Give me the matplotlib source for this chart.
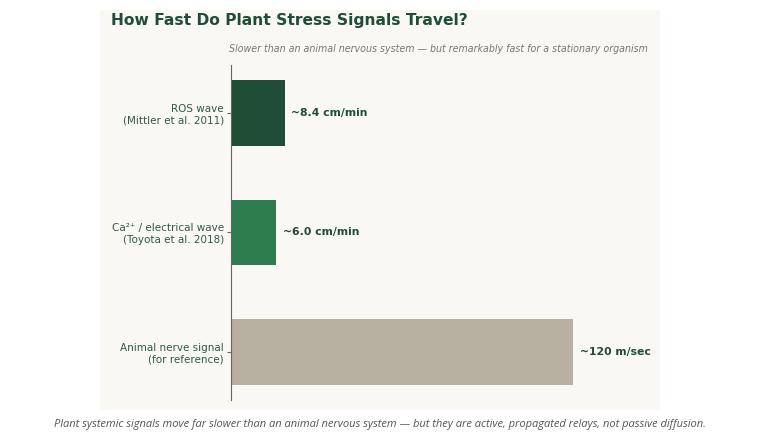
import numpy as np
import matplotlib.pyplot as plt
from matplotlib.patches import Rectangle

# data (bar length = log10 of speed in cm/min)
categories = ["ROS wave\n(Mittler et al. 2011)",
              "Ca²⁺ / electrical wave\n(Toyota et al. 2018)",
              "Animal nerve signal\n(for reference)"]
speed_cm_min = [8.4, 6.0, 120 * 100 * 60]
value_labels = ["~8.4 cm/min", "~6.0 cm/min", "~120 m/sec"]
bar_colors = ["#1f4d36", "#2e7d4f", "#b8b0a0"]

log_vals = np.log10(speed_cm_min)

W, H = 761, 447
fig = plt.figure(figsize=(W / 100, H / 100), dpi=100, facecolor="white")

# off-white panel behind the chart
fig.patches.append(Rectangle((100 / W, 1 - 410 / H), 560 / W, 400 / H,
                             transform=fig.transFigure, facecolor="#faf8f4",
                             edgecolor="none", zorder=-5))

ax = fig.add_axes([231 / W, 47 / H, 419 / W, 335 / H])
ax.set_facecolor("none")

y = np.arange(len(categories))
ax.barh(y, log_vals, height=0.55, color=bar_colors)
ax.invert_yaxis()
ax.set_xlim(0, 7.17)

ax.set_yticks(y)
ax.set_yticklabels(categories, fontsize=7.5, color="#2d5a45")
ax.set_xticks([])
for s in ["top", "right", "bottom"]:
    ax.spines[s].set_visible(False)
ax.spines["left"].set_color("#666666")
ax.tick_params(axis="y", length=3, color="#666666", pad=2)

for yi, v, lab in zip(y, log_vals, value_labels):
    ax.annotate(lab, (v, yi), xytext=(4.5, 0), textcoords="offset points",
                va="center", ha="left", fontsize=7.8, fontweight="bold",
                color="#1f4d36")

fig.text(111 / W, 1 - 20 / H, "How Fast Do Plant Stress Signals Travel?",
         fontsize=11.15, fontweight="bold", color="#1f4d36", va="center", ha="left")
fig.text(648 / W, 1 - 49 / H,
         "Slower than an animal nervous system — but remarkably fast for a stationary organism",
         fontsize=6.85, style="italic", color="#777777", va="center", ha="right")

fig.text(380 / W, 1 - 425 / H,
         "Plant systemic signals move far slower than an animal nervous system — but they are active, propagated relays, not passive diffusion.",
         fontsize=8, style="italic", color="#555555", va="center", ha="center",
         family=["Open Sans", "DejaVu Sans"])

fig.savefig("out.png", dpi=100, facecolor="white")
